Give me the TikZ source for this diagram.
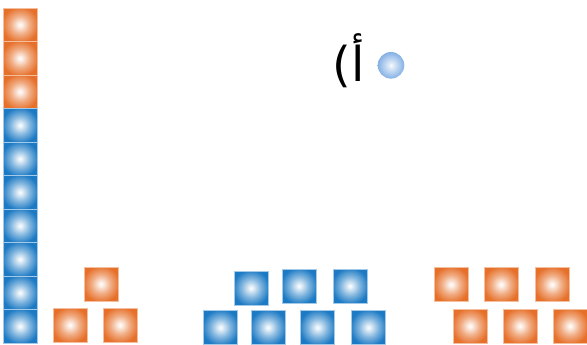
\documentclass[tikz,border=0pt]{standalone}
\usepackage{fontspec}
\usepackage{tikz}
\TeXXeTstate=1
\newfontfamily\arabicfont[Script=Arabic]{DejaVu Sans}
\definecolor{tileorange}{RGB}{230,112,42}
\definecolor{tileblue}{RGB}{28,122,196}
\definecolor{ballblue}{RGB}{132,176,228}
\pgfdeclareradialshading{orangeglow}{\pgfpoint{0bp}{0bp}}{%
  color(0bp)=(white); color(4bp)=(tileorange!15!white); color(14bp)=(tileorange!58!white);
  color(27bp)=(tileorange); color(50bp)=(tileorange)}
\pgfdeclareradialshading{blueglow}{\pgfpoint{0bp}{0bp}}{%
  color(0bp)=(white); color(4bp)=(tileblue!15!white); color(14bp)=(tileblue!55!white);
  color(27bp)=(tileblue); color(50bp)=(tileblue)}
\pgfdeclareradialshading{ballglow}{\pgfpoint{0bp}{0bp}}{%
  color(0bp)=(white); color(3bp)=(ballblue!20!white); color(25bp)=(ballblue); color(50bp)=(ballblue)}

\begin{document}
\begin{tikzpicture}[x=0.75pt,y=-0.75pt,
    orangetile/.style={shading=orangeglow,draw=tileorange!45!white,line width=0.5pt},
    bluetile/.style={shading=blueglow,draw=tileblue!40!white,line width=0.5pt},
    ball/.style={shading=ballglow}]
  \useasboundingbox (0,0) rectangle (587,344);
  % tall column on the left
  \foreach \i in {0,1,2}
    \shadedraw[orangetile] (3,8+33.5*\i) rectangle ++(34,33.5);
  \foreach \i in {3,...,9}
    \shadedraw[bluetile] (3,8+33.5*\i) rectangle ++(34,33.5);
  % small orange stack
  \shadedraw[orangetile] (84,267) rectangle ++(34,34);
  \foreach \x in {53,103}
    \shadedraw[orangetile] (\x,308) rectangle ++(34,34);
  % blue group
  \foreach \x/\y in {234/271, 282/269, 333/269}
    \shadedraw[bluetile] (\x,\y) rectangle ++(34,34);
  \foreach \x in {203.5,251,300.5,351.5}
    \shadedraw[bluetile] (\x,310.5) rectangle ++(34,34);
  % orange group
  \foreach \x in {434,484,535}
    \shadedraw[orangetile] (\x,267.5) rectangle ++(34,34);
  \foreach \x in {453,503,553}
    \shadedraw[orangetile] (\x,309) rectangle ++(34,34);
  % label and ball
  \node[inner sep=0pt] (label) at (349,61) {\fontsize{36}{36}\selectfont\arabicfont\beginR أ)\endR};
  \shade[ball] (391,65.3) circle (13.3);
\end{tikzpicture}
\end{document}
